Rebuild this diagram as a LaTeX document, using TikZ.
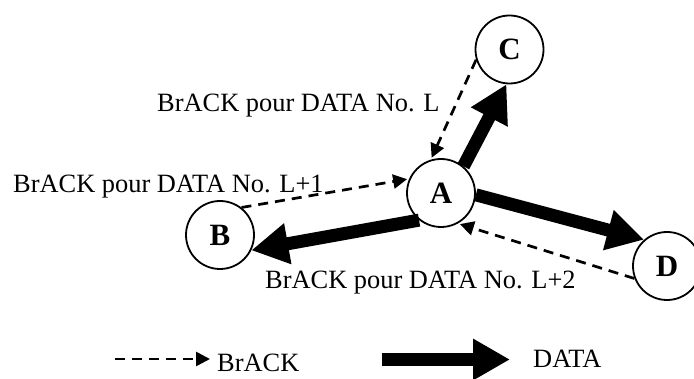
\documentclass[tikz,border=0pt]{standalone}
\usepackage{fontspec}
\setmainfont{Liberation Serif}
\usetikzlibrary{arrows.meta}
\begin{document}
\begin{tikzpicture}[x=1pt,y=-1pt,
  station/.style={circle,draw,line width=1.8pt,minimum size=68pt,inner sep=0pt,
    font=\fontsize{31}{31}\selectfont\bfseries},
  acktext/.style={anchor=base west,inner sep=0pt,font=\fontsize{26.4}{30}\selectfont},
  ack/.style={draw,line width=2.7pt,dash pattern=on 10pt off 7pt,shorten >=2pt,
    -{Triangle[length=14pt,width=14pt]}},
  data/.style={draw,line width=13pt,-{Triangle[length=37pt,width=39pt]}}]
\useasboundingbox (0,0) rectangle (694,379);

% stations
\node[station] (A) at (441,193) {A};
\node[station] (B) at (220,235) {B};
\node[station] (C) at (509.5,49.5) {C};
\node[station] (D) at (667,266) {D};

% DATA frames sent by A
\draw[data] (A.50) -- (C.-95);
\draw[data] (A.-129) -- (B.-26);
\draw[data] (A.-3) -- (D.131);

% BrACK replies back to A
\draw[ack] (C.-163) -- (A.107);
\draw[ack] (B.52) -- (A.156);
\draw[ack] (D.-159) -- (A.-61);

% labels of the replies
\node[acktext] (tL)  at (157,112) {BrACK pour DATA No. L};
\node[acktext] (tL1) at (13,193)  {BrACK pour DATA No. L+1};
\node[acktext] (tL2) at (265,289) {BrACK pour DATA No. L+2};

% legend
\coordinate (ackS) at (115,359);
\coordinate (ackE) at (210,359);
\draw[ack,shorten >=0pt] (ackS) -- (ackE);
\node[acktext] (kAck) at (217,372) {BrACK};
\coordinate (dataS) at (382,359.5);
\coordinate (dataE) at (510,359.5);
\draw[data] (dataS) -- (dataE);
\node[acktext] (kData) at (533,368) {DATA};
\end{tikzpicture}
\end{document}
